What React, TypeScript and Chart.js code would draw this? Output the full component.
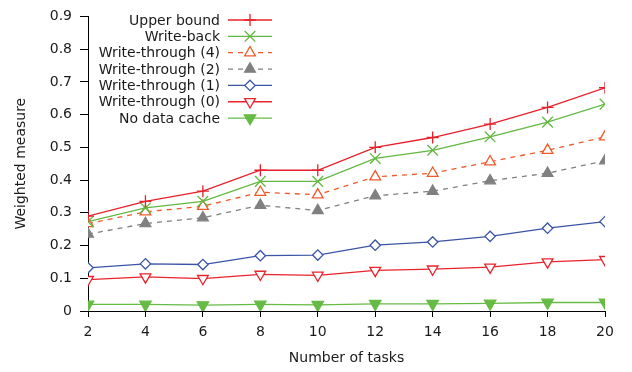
import React, { useEffect, useRef } from "react";
import { Chart, registerables } from "chart.js";
import { drawPoint } from "chart.js/helpers";

Chart.register(...registerables);

const tasks = [2, 4, 6, 8, 10, 12, 14, 16, 18, 20];
const upperBound = [0.29, 0.335, 0.366, 0.43, 0.43, 0.5, 0.53, 0.571, 0.622, 0.682];
const writeBack = [0.273, 0.315, 0.335, 0.396, 0.396, 0.466, 0.491, 0.532, 0.577, 0.632];
const writeThrough4 = [0.267, 0.303, 0.32, 0.363, 0.355, 0.41, 0.421, 0.456, 0.491, 0.532];
const writeThrough2 = [0.235, 0.267, 0.285, 0.323, 0.307, 0.352, 0.366, 0.398, 0.421, 0.459];
const writeThrough1 = [0.132, 0.144, 0.142, 0.169, 0.171, 0.201, 0.211, 0.228, 0.253, 0.273];
const writeThrough0 = [0.096, 0.104, 0.099, 0.112, 0.109, 0.124, 0.128, 0.134, 0.15, 0.157];
const noDataCache = [0.02, 0.02, 0.018, 0.02, 0.019, 0.022, 0.022, 0.023, 0.026, 0.026];

const seriesNames = [
  "Upper bound",
  "Write-back",
  "Write-through (4)",
  "Write-through (2)",
  "Write-through (1)",
  "Write-through (0)",
  "No data cache",
];
const seriesValues = [upperBound, writeBack, writeThrough4, writeThrough2, writeThrough1, writeThrough0, noDataCache];

const styles = [
  { color: "#e8202a", point: "cross", radius: 6, rot: 0, fill: "#e8202a", dash: [] as number[] },
  { color: "#62b840", point: "crossRot", radius: 7.5, rot: 0, fill: "#62b840", dash: [] as number[] },
  { color: "#f05a2a", point: "triangle", radius: 6.2, rot: 0, fill: "#ffffff", dash: [5, 5] },
  { color: "#808080", point: "triangle", radius: 6.2, rot: 0, fill: "#808080", dash: [5, 5] },
  { color: "#3a55a8", point: "rectRot", radius: 5.2, rot: 0, fill: "#ffffff", dash: [] as number[] },
  { color: "#e8242c", point: "triangle", radius: 6.2, rot: 180, fill: "#ffffff", dash: [] as number[] },
  { color: "#66bb44", point: "triangle", radius: 6.6, rot: 180, fill: "#66bb44", dash: [] as number[] },
];

const FONT = "'DejaVu Sans', sans-serif";
const TEXT = "#1a1a1a";
const FS = 14;

const legendPlugin = {
  id: "customLegend",
  afterDraw(chart: any) {
    const ctx = chart.ctx as CanvasRenderingContext2D;
    ctx.save();
    ctx.font = `${FS}px ${FONT}`;
    ctx.textAlign = "right";
    ctx.textBaseline = "middle";
    const rowY = 20;
    const step = 16.35;
    seriesNames.forEach((name, i) => {
      const y = rowY + i * step;
      const s = styles[i];
      ctx.fillStyle = TEXT;
      ctx.fillText(name, 220, y + 1);
      ctx.strokeStyle = s.color;
      ctx.lineWidth = 1.3;
      ctx.setLineDash(s.dash);
      ctx.beginPath();
      ctx.moveTo(228, y);
      ctx.lineTo(272, y);
      ctx.stroke();
      ctx.setLineDash([]);
      ctx.fillStyle = s.fill;
      ctx.strokeStyle = s.color;
      ctx.lineWidth = 1.3;
      drawPoint(ctx, { pointStyle: s.point as any, rotation: s.rot, radius: s.radius, borderWidth: 1.3 }, 250, y);
    });
    ctx.restore();
  },
};

export default function App() {
  const ref = useRef<HTMLCanvasElement | null>(null);
  useEffect(() => {
    document.body.style.margin = "0";
    const canvas = ref.current!;
    const datasets = seriesNames.map((name, i) => {
      const s = styles[i];
      return {
        label: name,
        data: tasks.map((t, j) => ({ x: t, y: seriesValues[i][j] })),
        borderColor: s.color,
        backgroundColor: s.fill,
        borderWidth: 1.3,
        borderDash: s.dash,
        pointStyle: s.point,
        pointRadius: s.radius,
        pointRotation: s.rot,
        pointBorderColor: s.color,
        pointBackgroundColor: s.fill,
        pointBorderWidth: 1.3,
        tension: 0,
        fill: false,
      };
    });
    const chart = new Chart(canvas, {
      type: "line",
      data: { datasets } as any,
      plugins: [legendPlugin],
      options: {
        animation: false,
        responsive: false,
        maintainAspectRatio: false,
        layout: { padding: { left: 0, right: 27, top: 13, bottom: 0 } },
        plugins: { legend: { display: false }, tooltip: { enabled: false } },
        scales: {
          x: {
            type: "linear",
            min: 2,
            max: 20,
            ticks: { stepSize: 2, color: TEXT, font: { family: FONT, size: FS }, padding: 7, maxRotation: 0 },
            grid: { drawOnChartArea: false, drawTicks: true, tickLength: 6, color: "#000", lineWidth: 1 },
            border: { display: true, color: "#000", width: 1 },
            title: { display: true, text: "Number of tasks", color: TEXT, font: { family: FONT, size: FS }, padding: { top: 0, bottom: 5.5 } },
            afterFit: (scale: any) => {
              scale.height = 61;
            },
          },
          y: {
            type: "linear",
            min: 0,
            max: 0.9,
            ticks: {
              stepSize: 0.1,
              color: TEXT,
              font: { family: FONT, size: FS },
              padding: 8,
              callback: (v: any) => (Math.round(Number(v) * 10) / 10).toString(),
            },
            grid: { drawOnChartArea: false, drawTicks: true, tickLength: 8, color: "#000", lineWidth: 1 },
            border: { display: true, color: "#000", width: 1 },
            title: { display: true, text: "Weighted measure", color: TEXT, font: { family: FONT, size: FS }, padding: { top: 12.5, bottom: 0 } },
            afterFit: (scale: any) => {
              scale.width = 88;
            },
          },
        },
      } as any,
    });
    return () => chart.destroy();
  }, []);
  return (
    <div style={{ position: "absolute", left: 0, top: 0, width: 632, height: 372, background: "#fff" }}>
      <canvas ref={ref} width={632} height={372} style={{ width: 632, height: 372 }} />
    </div>
  );
}
